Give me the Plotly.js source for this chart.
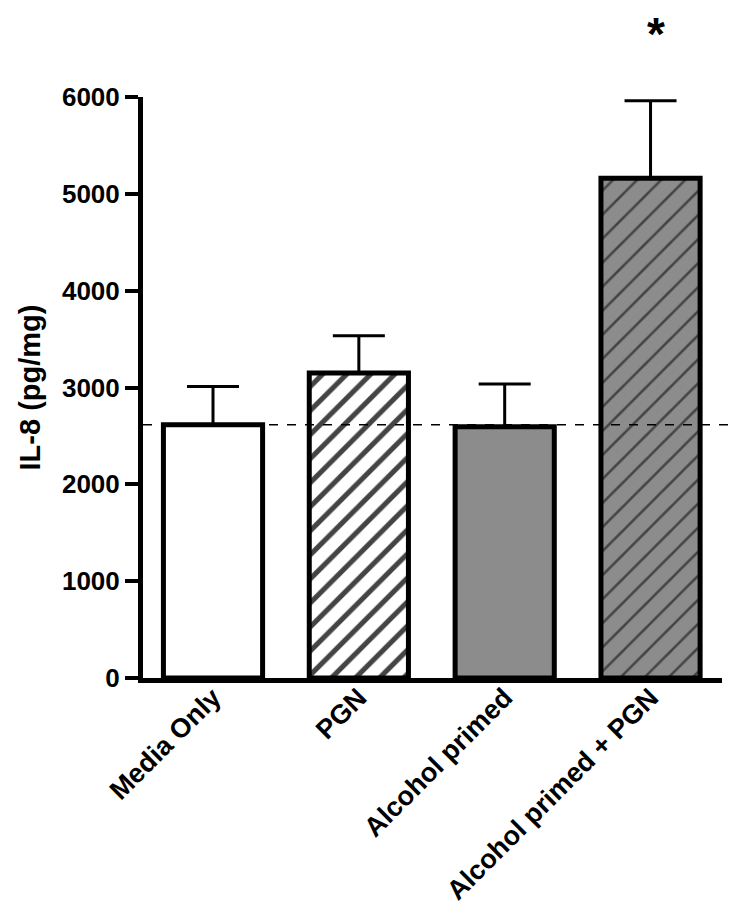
<!DOCTYPE html>
<html>
<head>
<meta charset="utf-8">
<script src="https://cdn.plot.ly/plotly-3.0.1.min.js"></script>
<style>html,body{margin:0;padding:0;background:#fff;}#chart{width:750px;height:915px;}</style>
</head>
<body>
<div id="chart"></div>
<script>
const categories = ["Media Only", "PGN", "Alcohol primed", "Alcohol primed + PGN"];
const values = [2615, 3150, 2595, 5160];
const errors = [395, 385, 440, 800];
const fillColors = ["#ffffff", "#ffffff", "#8c8c8c", "#8c8c8c"];
const patternShapes = ["", "/", "", "/"];
const significance = ["", "", "", "*"];
const yTicks = [0, 1000, 2000, 3000, 4000, 5000, 6000];
const yMax = 6000;

const FONT = "Liberation Sans, Arial, sans-serif";

const trace = {
  type: "bar",
  x: categories,
  y: values,
  width: 0.68,
  marker: {
    color: fillColors,
    line: {color: "#000", width: 5},
    pattern: {
      shape: patternShapes,
      fgcolor: "#000",
      fgopacity: 1,
      size: 17,
      solidity: [0.3, 0.3, 0.3, 0.15],
      fillmode: "overlay"
    }
  },
  error_y: {
    type: "data",
    symmetric: false,
    array: errors,
    arrayminus: [0, 0, 0, 0],
    color: "#000",
    thickness: 3,
    width: 26
  },
  cliponaxis: false,
  hoverinfo: "none"
};

const annotations = categories.map((c, i) => ({
  x: c, xref: "x",
  y: (values[i] + errors[i] + 980) / yMax, yref: "paper",
  xshift: 5,
  text: significance[i],
  showarrow: false,
  font: {family: FONT, size: 46, color: "#000", weight: "bold"}
})).filter(a => a.text);

const layout = {
  width: 750, height: 915,
  margin: {l: 143, r: 28, t: 97, b: 237},
  paper_bgcolor: "#fff", plot_bgcolor: "#fff",
  showlegend: false,
  xaxis: {
    range: [-0.48, 3.49],
    showline: true, linecolor: "#000", linewidth: 5,
    ticks: "", tickangle: -45,
    ticklabelstandoff: -12,
    tickfont: {family: FONT, size: 27, color: "#000", weight: "bold"},
    showgrid: false, zeroline: false, fixedrange: true
  },
  yaxis: {
    range: [0, yMax],
    tickvals: yTicks,
    ticktext: yTicks.map(String),
    showline: true, linecolor: "#000", linewidth: 5,
    ticks: "outside", ticklen: 13, tickwidth: 4, tickcolor: "#000",
    tickfont: {family: FONT, size: 26, color: "#000", weight: "bold"},
    showgrid: false, zeroline: false,
    title: {text: "IL-8 (pg/mg)", font: {family: FONT, size: 29, color: "#000", weight: "bold"}, standoff: 14},
    fixedrange: true
  },
  shapes: [{
    type: "line", xref: "paper", x0: 0, x1: 1.014,
    yref: "y", y0: values[0], y1: values[0],
    line: {color: "#000", width: 1.5, dash: "dash"},
    layer: "above"
  }],
  annotations: annotations
};

Plotly.newPlot("chart", [trace], layout, {displayModeBar: false, staticPlot: true});
</script>
</body>
</html>
